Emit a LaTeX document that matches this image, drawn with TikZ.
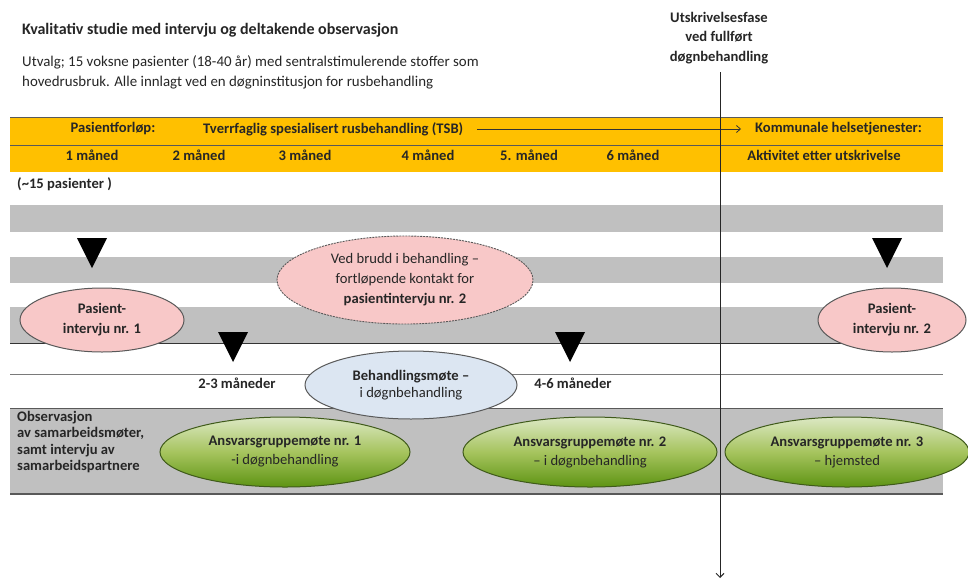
\documentclass[tikz,border=0pt]{standalone}
\usepackage{fontspec}
\setmainfont{Carlito}
\usetikzlibrary{shapes.geometric,arrows.meta}
\definecolor{band}{HTML}{FFC000}
\definecolor{stripe}{HTML}{C0C0C0}
\definecolor{pinkfill}{HTML}{F8C8C8}
\definecolor{bluefill}{HTML}{DCE6F2}
\definecolor{greentop}{HTML}{DCE8C4}
\definecolor{greenmid}{HTML}{A6C45E}
\definecolor{greenbot}{HTML}{5E9413}
\definecolor{greenedge}{HTML}{3F5A1A}
\definecolor{txt}{HTML}{262626}
\definecolor{rule}{HTML}{595959}
\tikzset{
  lbl/.style={font=\fontsize{14.6}{17}\selectfont\bfseries, text=txt, inner sep=0},
  plain/.style={font=\fontsize{14.9}{17}\selectfont, text=txt, inner sep=0},
  pinkov/.style={ellipse, draw=rule, fill=pinkfill, line width=1pt, inner sep=0, align=center,
                 font=\fontsize{14.6}{20}\selectfont\bfseries, text=txt},
  dashov/.style={ellipse, draw=rule, dashed, dash pattern=on 2pt off 1pt, fill=pinkfill, line width=0.9pt,
                 inner sep=0, align=center, font=\fontsize{14.6}{20}\selectfont, text=txt},
  blueov/.style={ellipse, draw=rule, fill=bluefill, line width=1pt, inner sep=0, align=center,
                 font=\fontsize{14.6}{17.5}\selectfont, text=txt},
  greenov/.style={ellipse, draw=greenedge, line width=1pt, top color=greentop, bottom color=greenbot,
                  middle color=greenmid, inner sep=0, align=center, font=\fontsize{14.6}{19}\selectfont, text=txt},
  marker/.style={fill=black},
  hrule/.style={draw=rule, line width=1pt},
}
\begin{document}
\begin{tikzpicture}[x=1pt,y=-1pt]
\useasboundingbox[fill=white] (0,0) rectangle (968,581);

% title and intro
\node[anchor=west, font=\fontsize{16}{19}\selectfont\bfseries, text=txt, inner sep=0] (title) at (22,30) {Kvalitativ studie med intervju og deltakende observasjon};
\node[anchor=west, plain] (sub1) at (22,62) {Utvalg; 15 voksne pasienter (18-40 år) med sentralstimulerende stoffer som};
\node[anchor=west, plain] (sub2) at (22,83) {hovedrusbruk. Alle innlagt ved en døgninstitusjon for rusbehandling};

% header at the discharge line
\node[lbl, align=center, font=\fontsize{14.6}{19.5}\selectfont\bfseries] (utskr) at (719,38) {Utskrivelsesfase\\ved fullført\\døgnbehandling};

% yellow band
\fill[band] (10,117) rectangle (943,172);
\draw[hrule] (10,117) -- (943,117);
\draw[draw=rule, line width=0.8pt] (10,145) -- (943,145);

% grey stripes
\fill[stripe] (10,205) rectangle (943,232);
\fill[stripe] (10,257) rectangle (943,283);
\fill[stripe] (10,307) rectangle (943,343);
\draw[draw=black!80, line width=1pt] (10,343) -- (943,343);
\draw[draw=rule!80, line width=0.8pt] (10,374) -- (943,374);
\fill[stripe] (10,408) rectangle (943,494);
\draw[draw=rule, line width=0.8pt] (10,408) -- (943,408);
\draw[draw=rule, line width=1.2pt] (10,494) -- (943,494);

% band texts
\node[lbl] (forlop) at (113,129) {Pasientforløp:};
\node[lbl, anchor=west] (tsb) at (203,129) {Tverrfaglig spesialisert rusbehandling (TSB)};
\node[lbl, anchor=west] (kommune) at (755,129) {Kommunale helsetjenester:};
\coordinate (arrS) at (477,129);
\coordinate (arrE) at (741,129);
\draw[draw=black!80, line width=0.8pt, -{Straight Barb[length=4pt,width=7pt]}] (arrS) -- (arrE);

\node[lbl] (m1) at (92,155) {1 måned};
\node[lbl] (m2) at (199,155) {2 måned};
\node[lbl] (m3) at (305,155) {3 måned};
\node[lbl] (m4) at (428,155) {4 måned};
\node[lbl] (m5) at (529,155) {5. måned};
\node[lbl] (m6) at (633,155) {6 måned};
\node[lbl] (akt) at (824,155) {Aktivitet etter utskrivelse};

\node[lbl, anchor=west] (pas15) at (17,184) {(\textasciitilde 15 pasienter )};

% vertical discharge line
\coordinate (vtop) at (720,72);
\coordinate (vbot) at (720,578);
\draw[draw=black!85, line width=1pt, -{Straight Barb[length=4pt,width=8pt]}] (vtop) -- (vbot);

% markers
\fill[marker] (77,238) -- (107,238) -- (92,268) -- cycle;
\fill[marker] (218,332) -- (248,332) -- (233,362) -- cycle;
\fill[marker] (555,332) -- (585,332) -- (570,362) -- cycle;
\fill[marker] (872,238) -- (902,238) -- (887,268) -- cycle;

% interviews
\node[pinkov, minimum width=164pt, minimum height=64pt] (int1) at (102,320) {Pasient-\\intervju nr. 1};
\node[pinkov, minimum width=148pt, minimum height=64pt] (int2) at (892,320) {Pasient-\\intervju nr. 2};
\node[dashov, minimum width=256pt, minimum height=88pt] (brudd) at (405,280) {Ved brudd i behandling --\\fortløpende kontakt for\\\textbf{pasientintervju nr. 2}};

% timings
\node[lbl] (t23) at (237,383) {2-3 måneder};
\node[lbl] (t46) at (573,383) {4-6 måneder};
\node[blueov, minimum width=212pt, minimum height=68pt] (beh) at (411,385) {\textbf{Behandlingsmøte --}\\i døgnbehandling};

% observation label
\node[lbl, anchor=north west, align=left, font=\fontsize{14.6}{16.5}\selectfont\bfseries] (obs) at (17,411) {Observasjon\\av samarbeidsmøter,\\samt intervju av\\samarbeidspartnere};

% responsibility group meetings
\node[greenov, minimum width=250pt, minimum height=70pt] (ag1) at (285,452) {\textbf{Ansvarsgruppemøte nr. 1}\\-i døgnbehandling};
\node[greenov, minimum width=254pt, minimum height=70pt] (ag2) at (590,452) {\textbf{Ansvarsgruppemøte nr. 2}\\-- i døgnbehandling};
\node[greenov, minimum width=244pt, minimum height=70pt] (ag3) at (847,452) {\textbf{Ansvarsgruppemøte nr. 3}\\-- hjemsted};
\end{tikzpicture}
\end{document}
